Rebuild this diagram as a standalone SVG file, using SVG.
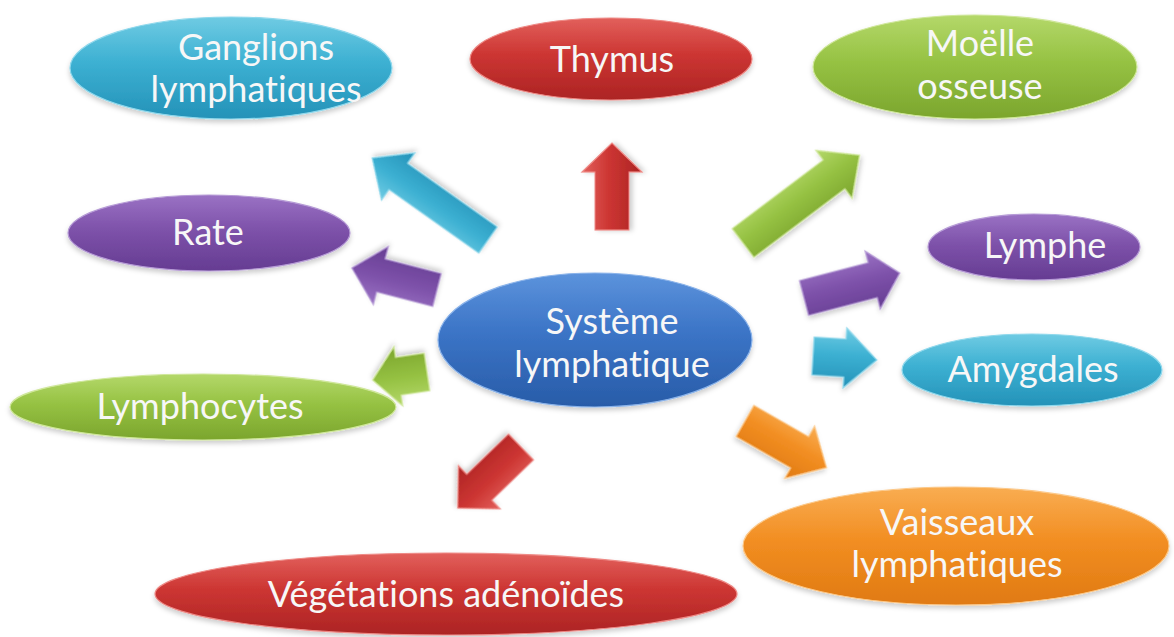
<svg xmlns="http://www.w3.org/2000/svg" width="1174" height="637" viewBox="0 0 1174 637">
<defs>
<linearGradient id="gCyan" x1="0" y1="0" x2="0" y2="1"><stop offset="0" stop-color="#6fcbe3"/><stop offset="0.45" stop-color="#3cb0d2"/><stop offset="1" stop-color="#2492b8"/></linearGradient>
<linearGradient id="gRed" x1="0" y1="0" x2="0" y2="1"><stop offset="0" stop-color="#e2605c"/><stop offset="0.45" stop-color="#cc3532"/><stop offset="1" stop-color="#ac2424"/></linearGradient>
<linearGradient id="gGreen" x1="0" y1="0" x2="0" y2="1"><stop offset="0" stop-color="#b4d86a"/><stop offset="0.45" stop-color="#96c243"/><stop offset="1" stop-color="#7ba52d"/></linearGradient>
<linearGradient id="gPurple" x1="0" y1="0" x2="0" y2="1"><stop offset="0" stop-color="#9a72c4"/><stop offset="0.45" stop-color="#7e52aa"/><stop offset="1" stop-color="#653c92"/></linearGradient>
<linearGradient id="gBlue" x1="0" y1="0" x2="0" y2="1"><stop offset="0" stop-color="#5c93dc"/><stop offset="0.45" stop-color="#3b74c6"/><stop offset="1" stop-color="#285ca8"/></linearGradient>
<linearGradient id="gOrange" x1="0" y1="0" x2="0" y2="1"><stop offset="0" stop-color="#f9ad52"/><stop offset="0.45" stop-color="#f28e22"/><stop offset="1" stop-color="#e07a12"/></linearGradient>
<filter id="sh" x="-10%" y="-20%" width="120%" height="150%"><feDropShadow dx="0" dy="3" stdDeviation="2.5" flood-color="#000" flood-opacity="0.2"/></filter>
</defs>
<style>
.node ellipse{filter:url(#sh);}
.cyan{fill:url(#gCyan);stroke:#8fd8ec;stroke-width:1.2}
.red{fill:url(#gRed);stroke:#ee8a86;stroke-width:1.2}
.green{fill:url(#gGreen);stroke:#cfe79a;stroke-width:1.2}
.purple{fill:url(#gPurple);stroke:#b69bd6;stroke-width:1.2}
.blue{fill:url(#gBlue);stroke:#8ab3ea;stroke-width:1.2}
.orange{fill:url(#gOrange);stroke:#fcc888;stroke-width:1.2}
text{font-family:Lato,"Liberation Sans",sans-serif;font-size:36px;fill:#f7f7f7;text-anchor:middle;font-variant-ligatures:none;font-feature-settings:"liga" 0}
#connectors polygon{filter:url(#sh)}
</style>

<g id="node-ganglions" class="node"><ellipse class="cyan" cx="231" cy="68" rx="161" ry="51"/><text x="256" y="60">Ganglions</text><text x="256" y="102">lymphatiques</text></g>
<g id="node-thymus" class="node"><ellipse class="red" cx="611" cy="59" rx="141" ry="41"/><text x="612" y="72">Thymus</text></g>
<g id="node-moelle" class="node"><ellipse class="green" cx="975" cy="67" rx="162" ry="52"/><text x="980" y="56">Moëlle</text><text x="980" y="99">osseuse</text></g>
<g id="node-rate" class="node"><ellipse class="purple" cx="209" cy="233" rx="141" ry="38"/><text x="208" y="245">Rate</text></g>
<g id="node-lymphe" class="node"><ellipse class="purple" cx="1034" cy="247" rx="106" ry="33"/><text x="1045" y="258">Lymphe</text></g>
<g id="node-systeme" class="node"><ellipse class="blue" cx="595" cy="340" rx="157" ry="67"/><text x="612" y="334">Système</text><text x="612" y="377">lymphatique</text></g>
<g id="node-amygdales" class="node"><ellipse class="cyan" cx="1032" cy="370" rx="130" ry="36"/><text x="1033" y="382">Amygdales</text></g>
<g id="node-lymphocytes" class="node"><ellipse class="green" cx="203" cy="407" rx="193" ry="33"/><text x="200" y="419">Lymphocytes</text></g>
<g id="node-vaisseaux" class="node"><ellipse class="orange" cx="956" cy="546" rx="213" ry="59"/><text x="957" y="535">Vaisseaux</text><text x="957" y="577">lymphatiques</text></g>
<g id="node-vegetations" class="node"><ellipse class="red" cx="446" cy="594" rx="291" ry="41"/><text x="446" y="607">Végétations adénoïdes</text></g>

<g id="connectors">
<polygon class="cyan" points="0,-16 110,-16 110,-29 142,0 110,29 110,16 0,16" transform="translate(488,240) rotate(215.3)"/>
<polygon class="red" points="0,-17 58,-17 58,-30 87,0 58,30 58,17 0,17" transform="translate(612,230) rotate(-90)"/>
<polygon class="green" points="0,-18 114,-18 114,-30 146,0 114,30 114,18 0,18" transform="translate(743,243) rotate(-37)"/>
<polygon class="purple" points="0,-18 71,-18 71,-30 99,0 71,30 71,18 0,18" transform="translate(804,298) rotate(-14.6)"/>
<polygon class="cyan" points="0,-19 32,-19 32,-30 64,0 32,30 32,19 0,19" transform="translate(813,356) rotate(3.6)"/>
<polygon class="orange" points="0,-18 63,-18 63,-30 94,0 63,30 63,18 0,18" transform="translate(745,421) rotate(29.8)"/>
<polygon class="red" points="0,-18 58,-18 58,-30 88,0 58,30 58,18 0,18" transform="translate(521,447) rotate(136)"/>
<polygon class="green" points="0,-19 29,-19 29,-30 55,0 29,30 29,19 0,19" transform="translate(427,372) rotate(171.6)"/>
<polygon class="purple" points="0,-17 58,-17 58,-30 88,0 58,30 58,17 0,17" transform="translate(437,290) rotate(194.5)"/>
</g>
</svg>
